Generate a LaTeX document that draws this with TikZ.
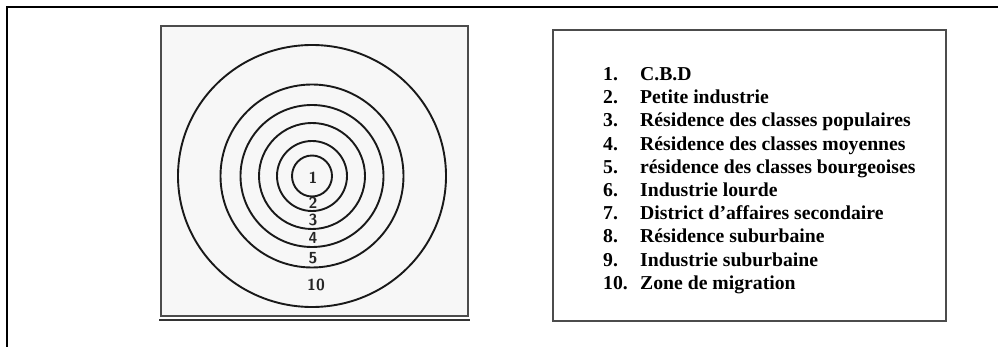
\documentclass[tikz,border=0pt]{standalone}
\usepackage{fontspec}
\setmainfont{Liberation Serif}
\usetikzlibrary{positioning}

\tikzset{
  ring/.style={line width=1.9pt,black!90},
  zonelabel/.style={font=\sffamily\bfseries\fontsize{16}{16}\selectfont,inner sep=0pt,black!85},
  legendtext/.style={anchor=base west,inner sep=0pt,font=\bfseries\fontsize{19.7}{23}\selectfont}
}

\begin{document}
\begin{tikzpicture}[x=1pt,y=-1pt]
  \useasboundingbox (0,0) rectangle (998,347);
  % outer frame
  \draw[line width=1.6pt] (7,347) -- (7,7) -- (998,7);
  % concentric model
  \draw[line width=1.4pt,black!70,fill=black!3] (161,26) rectangle (468,316);
  \draw[line width=1.8pt,black!80] (159,320) -- (470,320);
  \coordinate (c) at (312,176);
  \foreach \rx/\ry in {20/20.5,35/35,53/53,71.5/71,91.5/91.5,134/131}
    \draw[ring] (c) circle[x radius=\rx,y radius=\ry];
  \node[zonelabel] (z1) at (313,178) {1};
  \node[zonelabel] (z2) at (313,203) {2};
  \node[zonelabel] (z3) at (313,220) {3};
  \node[zonelabel] (z4) at (313,238) {4};
  \node[zonelabel] (z5) at (313,258) {5};
  \node[zonelabel] (z10) at (316,285) {10};
  % legend
  \draw[line width=1.3pt,black!70] (553,30) rectangle (946,321);
  \foreach \n/\t in {1/C.B.D,2/Petite industrie,3/Résidence des classes populaires,
      4/Résidence des classes moyennes,5/résidence des classes bourgeoises,
      6/Industrie lourde,7/District d’affaires secondaire,8/Résidence suburbaine,
      9/Industrie suburbaine,10/Zone de migration} {
    \node[legendtext] (num\n) at (603,{80.5+23.2*(\n-1)}) {\n.};
    \node[legendtext] (item\n) at (640,{80.5+23.2*(\n-1)}) {\t};
  }
\end{tikzpicture}
\end{document}
